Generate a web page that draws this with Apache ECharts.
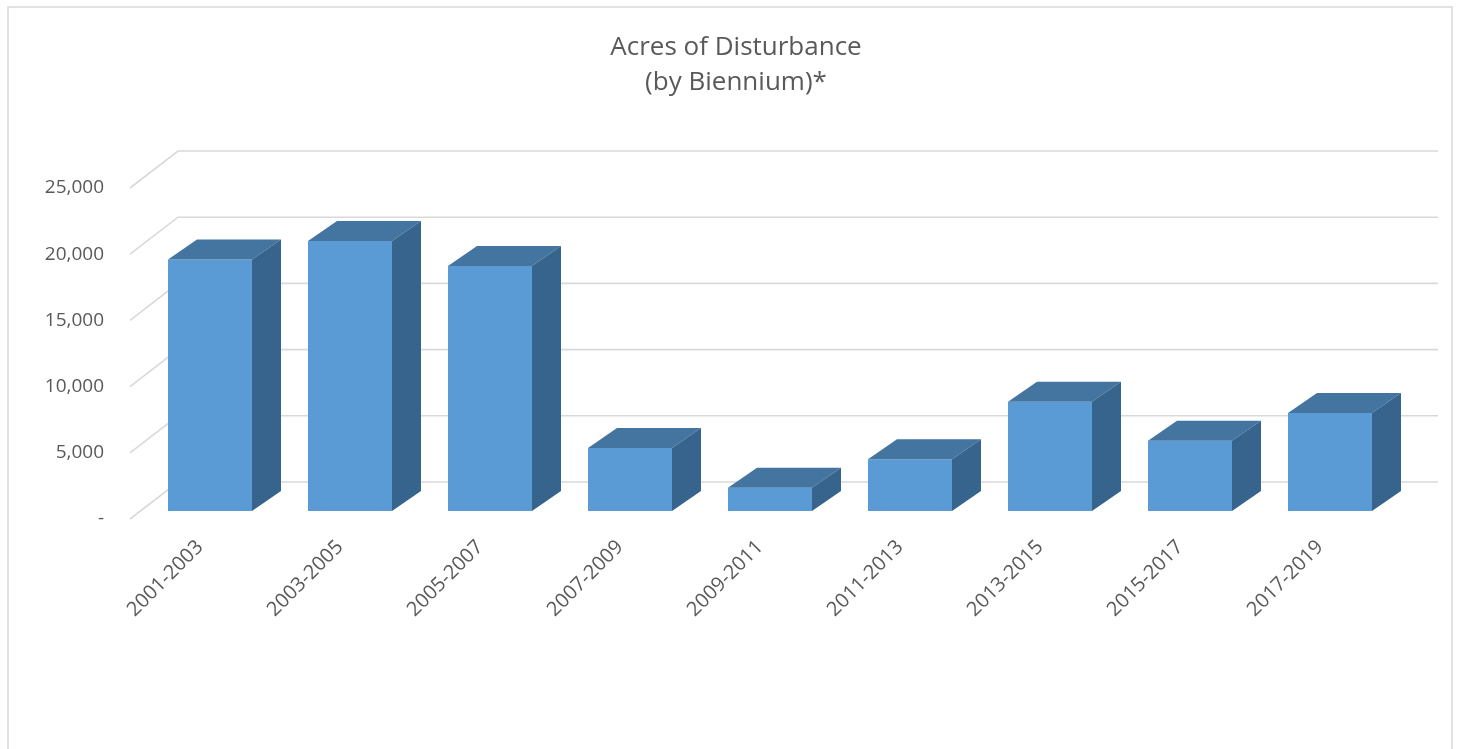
<!DOCTYPE html>
<html>
<head>
<meta charset="utf-8">
<script src="https://cdn.jsdelivr.net/npm/echarts@6/dist/echarts.min.js"></script>
<style>
  html, body { margin: 0; padding: 0; background: #fff; }
  #chart { width: 1463px; height: 749px; }
</style>
</head>
<body>
<div id="chart"></div>
<script>
// data
var bienniums = ['2001-2003', '2003-2005', '2005-2007', '2007-2009', '2009-2011',
                 '2011-2013', '2013-2015', '2015-2017', '2017-2019'];
var acres = [19000, 20400, 18500, 4750, 1750, 3900, 8250, 5300, 7400];
var yTicks = [0, 5000, 10000, 15000, 20000, 25000];

var chart = echarts.init(document.getElementById('chart'));

// 3d look: back wall offset and bar offsets, relative to the front plane
var WALL_DX = 48, WALL_DY = -37;
var BAR_DX = 10, BAR_DY = -8;
var DEPTH_DX = 29, DEPTH_DY = -20;

function renderWall(params, api) {
  var cs = params.coordSys;
  var y = api.coord([0, api.value(1)])[1];
  var x0 = cs.x;
  return {
    type: 'polyline',
    shape: { points: [[x0, y], [x0 + WALL_DX, y + WALL_DY], [x0 + cs.width + WALL_DX, y + WALL_DY]] },
    style: { stroke: '#d9d9d9', lineWidth: 1.6, fill: null },
    silent: true
  };
}

function renderBar(params, api) {
  var top = api.coord([api.value(0), api.value(1)]);
  var base = api.coord([api.value(0), 0]);
  var band = api.size([1, 0])[0];
  var w = band * 0.6;
  var x0 = top[0] - w / 2 + BAR_DX;
  var x1 = x0 + w;
  var yt = top[1] + BAR_DY;
  var yb = base[1] + BAR_DY;
  return {
    type: 'group',
    children: [
      {
        type: 'rect',
        shape: { x: x0, y: yt, width: w, height: yb - yt },
        style: { fill: '#5b9bd5' }
      },
      {
        type: 'polygon',
        shape: { points: [[x0, yt], [x1, yt], [x1 + DEPTH_DX, yt + DEPTH_DY], [x0 + DEPTH_DX, yt + DEPTH_DY]] },
        style: { fill: '#4474a0' }
      },
      {
        type: 'polygon',
        shape: { points: [[x1, yt], [x1 + DEPTH_DX, yt + DEPTH_DY], [x1 + DEPTH_DX, yb + DEPTH_DY], [x1, yb]] },
        style: { fill: '#37648c' }
      }
    ]
  };
}

chart.setOption({
  backgroundColor: '#fff',
  animation: false,
  textStyle: { fontFamily: 'Open Sans' },
  title: {
    text: 'Acres of Disturbance\n(by Biennium)*',
    left: 731,
    top: 25,
    textAlign: 'center',
    textStyle: { fontSize: 26, fontWeight: 'normal', color: '#595959', lineHeight: 35, fontFamily: 'Open Sans' }
  },
  graphic: [{
    type: 'rect',
    shape: { x: 8, y: 7, width: 1444, height: 760 },
    style: { fill: null, stroke: '#d9d9d9', lineWidth: 1.5 },
    silent: true,
    z: -10
  }],
  grid: { left: 130, right: 73, top: 188, bottom: 230 },
  xAxis: {
    type: 'category',
    data: bienniums,
    axisLine: { show: false },
    axisTick: { show: false },
    axisLabel: { rotate: 45, margin: 25, fontSize: 20, color: '#595959', fontFamily: 'Open Sans' }
  },
  yAxis: {
    type: 'value',
    min: 0,
    max: 25000,
    interval: 5000,
    axisLine: { show: false },
    axisTick: { show: false },
    splitLine: { show: false },
    axisLabel: {
      margin: 26,
      fontSize: 19,
      color: '#595959',
      fontFamily: 'Open Sans',
      formatter: function (v) { return v === 0 ? '-' : v.toLocaleString('en-US'); }
    }
  },
  series: [
    {
      type: 'custom',
      renderItem: renderWall,
      data: yTicks.map(function (t) { return [0, t]; }),
      z: 1,
      silent: true
    },
    {
      type: 'custom',
      renderItem: renderBar,
      data: acres.map(function (v, i) { return [i, v]; }),
      z: 2
    }
  ]
});
</script>
</body>
</html>
